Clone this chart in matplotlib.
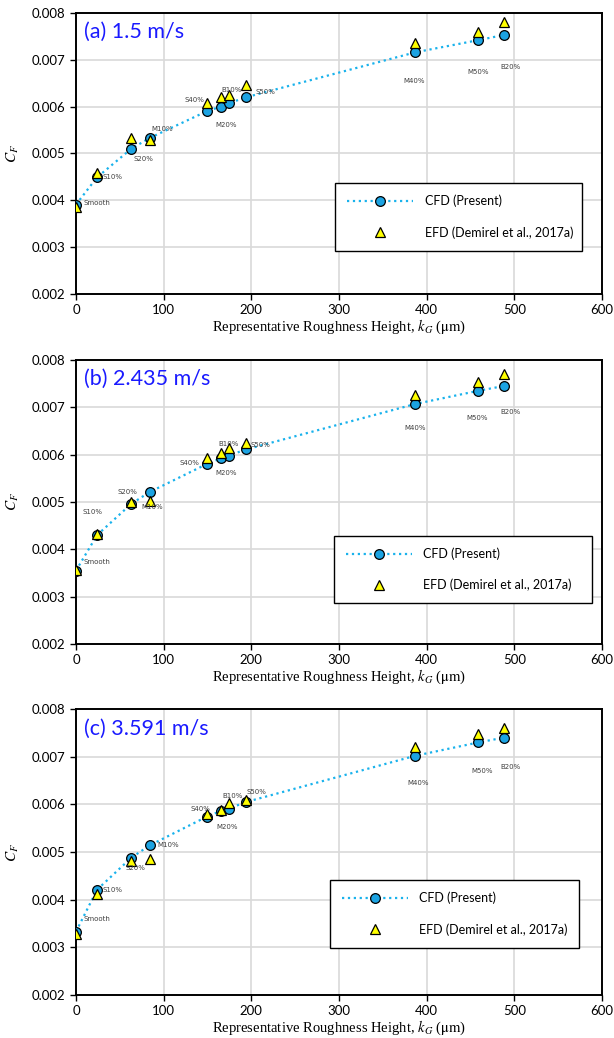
import matplotlib
matplotlib.use("Agg")
import matplotlib.pyplot as plt
from matplotlib.ticker import FormatStrFormatter

plt.rcParams['font.family'] = ['Lato', 'DejaVu Sans']
plt.rcParams['mathtext.fontset'] = 'stix'

# roughness cases and representative roughness height kG (um)
cases = ['Smooth', 'S10%', 'S20%', 'M10%', 'S40%', 'M20%', 'B10%', 'S50%', 'M40%', 'M50%', 'B20%']
k_g = [0, 24, 63, 84, 149, 165, 174, 194, 387, 459, 488]

panel_titles = ['(a) 1.5 m/s', '(b) 2.435 m/s', '(c) 3.591 m/s']

cfd_a = [0.00391, 0.00449, 0.00510, 0.00533, 0.00590, 0.00600, 0.00607, 0.00620, 0.00716, 0.00742, 0.00753]
efd_a = [0.00386, 0.00458, 0.00533, 0.00528, 0.00608, 0.00620, 0.00625, 0.00646, 0.00735, 0.00760, 0.00780]

cfd_b = [0.00355, 0.00430, 0.00496, 0.00521, 0.00580, 0.00592, 0.00598, 0.00611, 0.00707, 0.00735, 0.00745]
efd_b = [0.00356, 0.00432, 0.00501, 0.00502, 0.00593, 0.00603, 0.00613, 0.00624, 0.00726, 0.00754, 0.00770]

cfd_c = [0.00333, 0.00421, 0.00488, 0.00514, 0.00574, 0.00586, 0.00591, 0.00605, 0.00702, 0.00730, 0.00740]
efd_c = [0.00328, 0.00413, 0.00481, 0.00485, 0.00579, 0.00589, 0.00603, 0.00609, 0.00721, 0.00748, 0.00760]

cfd_all = [cfd_a, cfd_b, cfd_c]
efd_all = [efd_a, efd_b, efd_c]

# label offsets in pixels (dx, dy, ha) for each panel
label_offsets = [
    [(7, 2, 'left'), (5, 0, 'left'), (2, -10, 'left'), (2, 9, 'left'), (-2, 11, 'right'),
     (5, -18, 'center'), (3, 13, 'center'), (9, 5, 'left'), (-1, -29, 'center'),
     (0, -32, 'center'), (7, -32, 'center')],
    [(7, 9, 'left'), (-5, 23, 'center'), (-4, 12, 'center'), (3, -15, 'center'), (-7, 1, 'right'),
     (5, -15, 'center'), (0, 12, 'center'), (4, 4, 'left'), (0, -24, 'center'),
     (-1, -27, 'center'), (7, -26, 'center')],
    [(7, 13, 'left'), (5, 0, 'left'), (4, -10, 'center'), (8, 0, 'left'), (-6, 8, 'center'),
     (6, -16, 'center'), (4, 13, 'center'), (0, 10, 'left'), (3, -27, 'center'),
     (4, -29, 'center'), (7, -29, 'center')],
]

axes_rects = [
    [0.1238, 0.7168, 0.8567, 0.2707],
    [0.1238, 0.3796, 0.8567, 0.2736],
    [0.1238, 0.0414, 0.8567, 0.2755],
]
# legend box: left, top, width (axes fraction)
legend_box = [(0.493, 0.395, 0.469), (0.49, 0.381, 0.49), (0.483, 0.402, 0.473)]

fig = plt.figure(figsize=(6.14, 10.38), dpi=100)

for i in range(3):
    ax = fig.add_axes(axes_rects[i])
    ax.plot(k_g, cfd_all[i], linestyle=':', color='#19b2ec', linewidth=1.6,
            marker='o', markersize=7, markerfacecolor='#1ca3e2', markeredgecolor='black',
            markeredgewidth=0.9, label='CFD (Present)', zorder=3)
    ax.plot(k_g, efd_all[i], linestyle='none', marker='^', markersize=6.5,
            markerfacecolor='#ffff00', markeredgecolor='black', markeredgewidth=0.9,
            label='EFD (Demirel et al., 2017a)', zorder=4)

    # case labels next to the CFD points
    for j, name in enumerate(cases):
        dx, dy, ha = label_offsets[i][j]
        ax.annotate(name, (k_g[j], cfd_all[i][j]), xytext=(dx, dy), textcoords='offset pixels',
                    ha=ha, va='center', fontsize=5, color='#404040',
                    family=['DejaVu Sans'], zorder=5)

    ax.set_xlim(0, 600)
    ax.set_ylim(0.002, 0.008)
    ax.set_xticks(range(0, 601, 100))
    ax.set_yticks([0.002, 0.003, 0.004, 0.005, 0.006, 0.007, 0.008])
    ax.yaxis.set_major_formatter(FormatStrFormatter('%.3f'))
    ax.grid(True, color='#d9d9d9', linewidth=1.2)
    ax.set_axisbelow(True)
    ax.tick_params(direction='out', length=4, width=1, labelsize=9.5, colors='black')
    for s in ax.spines.values():
        s.set_linewidth(1.4)
        s.set_color('black')

    ax.set_xlabel('Representative Roughness Height, $k_G$ ($\\mathrm{\\mu m}$)',
                  family=['Liberation Serif'], fontsize=10.5, labelpad=1)
    ax.set_ylabel('$C_F$', fontsize=11, labelpad=8)

    ax.text(0.016, 0.932, panel_titles[i], transform=ax.transAxes, color='#1a1aff',
            fontsize=15.5, ha='left', va='center')

    x0, top, w = legend_box[i]
    leg = ax.legend(loc='upper left', bbox_to_anchor=(x0, top, w, 0), mode='expand',
                    borderaxespad=0, fontsize=9, frameon=True, fancybox=False,
                    edgecolor='black', handlelength=5.3, handletextpad=0.9,
                    labelspacing=1.5, borderpad=0.95)
    leg.get_frame().set_linewidth(1.0)
    leg.get_frame().set_alpha(1)

fig.savefig('out.png', dpi=100)
